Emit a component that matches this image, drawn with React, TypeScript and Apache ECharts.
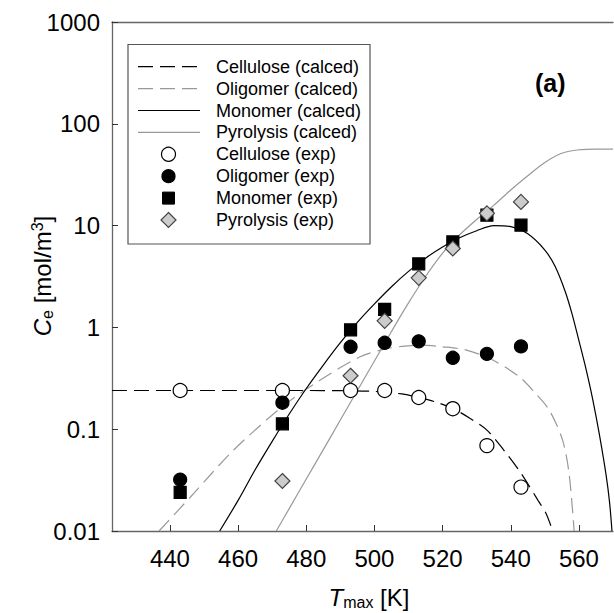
import React, { useEffect, useRef } from "react";
import * as echarts from "echarts";

const FONT = "'Liberation Sans', Arial, Helvetica, sans-serif";

const xTicks = [440, 460, 480, 500, 520, 540, 560];
const yTickLabels = ["0.01", "0.1", "1", "10", "100", "1000"];

// calculated curves [T, Ce]
const celluloseCalc = [
  [423, 0.24], [450, 0.24], [480, 0.24], [490, 0.239], [500, 0.235], [508, 0.222],
  [513, 0.205], [518, 0.185], [523, 0.16], [528, 0.128], [533, 0.098], [538, 0.062],
  [543, 0.037], [548, 0.02], [550.3, 0.015], [552.3, 0.01],
];
const oligomerCalc = [
  [436.8, 0.01], [446.1, 0.0217], [458.7, 0.0624], [473.2, 0.169], [484.1, 0.304],
  [495.8, 0.514], [502.6, 0.608], [508, 0.65], [513.3, 0.67], [520, 0.645], [527, 0.598],
  [534.7, 0.478], [542.5, 0.327], [547, 0.23], [551.3, 0.154], [555.2, 0.078],
  [557.1, 0.037], [558.6, 0.01],
];
const monomerCalc = [
  [454.6, 0.01], [460, 0.02], [465, 0.04], [470, 0.076], [475, 0.141], [480, 0.251],
  [485, 0.427], [490, 0.708], [495, 1.12], [500, 1.7], [505, 2.51], [510, 3.55],
  [515, 4.79], [520, 6.17], [525, 7.59], [530, 8.91], [535, 10.0], [540, 9.77],
  [545, 8.3], [550, 5.75], [553, 3.98], [556, 2.24], [558, 1.35], [560, 0.74],
  [562, 0.4], [564, 0.2], [566, 0.089], [568, 0.035], [569, 0.019], [569.7, 0.01],
];
const pyrolysisCalc = [
  [471.2, 0.01], [475, 0.0166], [480, 0.0324], [485, 0.063], [490, 0.123], [495, 0.24],
  [500, 0.468], [505, 0.912], [510, 1.74], [515, 3.16], [520, 5.37], [525, 8.13],
  [530, 11.5], [535, 15.8], [540, 22.4], [545, 30.9], [550, 41.7], [555, 51.3],
  [560, 55.6], [565, 56.5], [570, 56.5],
];

// experimental points
const celluloseExp = [
  [443, 0.24], [473, 0.24], [493, 0.24], [503, 0.24], [513, 0.205], [523, 0.159],
  [533, 0.069], [543, 0.027],
];
const oligomerExp = [
  [443, 0.032], [473, 0.182], [493, 0.645], [503, 0.706], [513, 0.729], [523, 0.503],
  [533, 0.55], [543, 0.651],
];
const monomerExp = [
  [443, 0.024], [473, 0.113], [493, 0.947], [503, 1.5], [513, 4.21], [523, 6.92],
  [533, 12.66], [543, 10.1],
];
const pyrolysisExp = [
  [473, 0.031], [493, 0.335], [503, 1.16], [513, 3.07], [523, 5.96], [533, 13.2],
  [543, 17.1],
];

const seriesNames = [
  "Cellulose (calced)", "Oligomer (calced)", "Monomer (calced)", "Pyrolysis (calced)",
  "Cellulose (exp)", "Oligomer (exp)", "Monomer (exp)", "Pyrolysis (exp)",
];

const xAxisTitle = "{i|T}{sub|max} [K]";
const yAxisTitle = "{i|C}{sub|e} [mol/m{sup|3}]";
const panelLabel = "(a)";

type Sty = { kind: string; color: string; fill?: string; dash?: number[] | null };
const legendStyles: Sty[] = [
  { kind: "line", color: "#000", dash: [15, 7] },
  { kind: "line", color: "#999", dash: [15, 7] },
  { kind: "line", color: "#000", dash: null },
  { kind: "line", color: "#999", dash: null },
  { kind: "circle", color: "#000", fill: "#fff" },
  { kind: "circle", color: "#000", fill: "#000" },
  { kind: "square", color: "#000", fill: "#000" },
  { kind: "diamond", color: "#444", fill: "#ccc" },
];

function buildLegend() {
  const els: any[] = [];
  const top = 44.5;
  const left = 128;
  const rowGap = 21.9;
  const firstRow = 66.7;
  els.push({
    type: "rect",
    shape: { x: left, y: top, width: 242, height: 199.5 },
    style: { fill: "#fff", stroke: "#555", lineWidth: 1.2 },
    z: 50,
  });
  seriesNames.forEach((name, i) => {
    const y = firstRow + rowGap * i;
    const s = legendStyles[i];
    const cx = 168.5;
    if (s.kind === "line") {
      els.push({
        type: "line",
        shape: { x1: 138, y1: y, x2: 200, y2: y },
        style: { stroke: s.color, lineWidth: 1.2, lineDash: s.dash || undefined },
        z: 51,
      });
    } else if (s.kind === "circle") {
      els.push({
        type: "circle",
        shape: { cx, cy: y, r: s.fill === "#fff" ? 7 : 6.5 },
        style: { fill: s.fill, stroke: s.color, lineWidth: 1.2 },
        z: 51,
      });
    } else if (s.kind === "square") {
      els.push({
        type: "rect",
        shape: { x: cx - 6, y: y - 6, width: 12, height: 12 },
        style: { fill: s.fill, stroke: s.color, lineWidth: 1 },
        z: 51,
      });
    } else {
      els.push({
        type: "polygon",
        shape: { points: [[cx, y - 7.5], [cx + 7.5, y], [cx, y + 7.5], [cx - 7.5, y]] },
        style: { fill: s.fill, stroke: s.color, lineWidth: 1.2 },
        z: 51,
      });
    }
    els.push({
      type: "text",
      x: 216,
      y,
      style: { text: name, fontSize: 18, fill: "#000", fontFamily: FONT, verticalAlign: "middle", align: "left" },
      z: 51,
    });
  });
  return els;
}

export default function App() {
  const ref = useRef<HTMLDivElement>(null);
  useEffect(() => {
    if (!ref.current) return;
    const chart = echarts.init(ref.current, null, { renderer: "svg" });
    const axisColor = "#666";
    const lineSeries = (name: string, data: number[][], color: string, type: any) => ({
      name,
      type: "line",
      data,
      symbol: "none",
      smooth: 0.3,
      lineStyle: { color, width: 1.2, type },
      itemStyle: { color },
      z: 2,
    });
    const scatter = (name: string, data: number[][], symbol: string, size: number, fill: string, stroke: string) => ({
      name,
      type: "scatter",
      data,
      symbol,
      symbolSize: size,
      itemStyle: { color: fill, borderColor: stroke, borderWidth: 1.2, opacity: 1 },
      z: 3,
    });
    const richName = {
      i: { fontStyle: "italic", fontSize: 24, fontFamily: FONT, fill: "#000", lineHeight: 26 },
      sub: { fontSize: 16, fontFamily: FONT, fill: "#000", verticalAlign: "bottom", lineHeight: 14 },
      sup: { fontSize: 16, fontFamily: FONT, fill: "#000", verticalAlign: "top", lineHeight: 14 },
    };
    chart.setOption({
      animation: false,
      backgroundColor: "#fff",
      textStyle: { fontFamily: FONT },
      grid: { left: 112, right: 1, top: 22, bottom: 82, containLabel: false, outerBoundsMode: "none" },
      xAxis: [
        {
          type: "value",
          min: 423,
          max: 570,
          position: "bottom",
          axisLine: { show: true, onZero: false, lineStyle: { color: axisColor, width: 1.3 } },
          axisTick: { show: true, inside: true, length: 6, customValues: xTicks, lineStyle: { color: "#333" } },
          axisLabel: { customValues: xTicks, color: "#000", fontSize: 24, margin: 15, fontFamily: FONT },
          splitLine: { show: false },
        },
        {
          type: "value",
          min: 423,
          max: 570,
          position: "top",
          axisLine: { show: true, onZero: false, lineStyle: { color: axisColor, width: 1.3 } },
          axisTick: { show: false },
          axisLabel: { show: false },
          splitLine: { show: false },
        },
      ],
      yAxis: {
        type: "log",
        logBase: 10,
        min: 0.01,
        max: 1000,
        axisLine: { show: true, lineStyle: { color: axisColor, width: 1.3 } },
        axisTick: { show: true, inside: true, length: 6, lineStyle: { color: "#333" } },
        axisLabel: {
          color: "#000",
          fontSize: 24,
          margin: 12,
          fontFamily: FONT,
          formatter: (v: number) => {
            const idx = Math.round(Math.log10(v)) + 2;
            return yTickLabels[idx] ?? "";
          },
        },
        minorTick: { show: false },
        splitLine: { show: false },
      },
      graphic: [
        ...buildLegend(),
        {
          type: "text",
          x: 535,
          y: 70,
          style: { text: panelLabel, fontSize: 25, fontWeight: "bold", fill: "#000", fontFamily: FONT },
          z: 52,
        },
        {
          type: "text",
          x: 369,
          y: 597,
          style: {
            text: xAxisTitle, fontSize: 24, fill: "#000", fontFamily: FONT, lineHeight: 26,
            align: "center", verticalAlign: "middle", rich: richName,
          },
          z: 52,
        },
        {
          type: "text",
          x: 42,
          y: 276,
          rotation: Math.PI / 2,
          style: {
            text: yAxisTitle, fontSize: 24, fill: "#000", fontFamily: FONT, lineHeight: 26,
            align: "center", verticalAlign: "middle", rich: richName,
          },
          z: 52,
        },
      ],
      series: [
        lineSeries(seriesNames[0], celluloseCalc, "#000", [15, 7]),
        lineSeries(seriesNames[1], oligomerCalc, "#999", [15, 7]),
        lineSeries(seriesNames[2], monomerCalc, "#000", "solid"),
        lineSeries(seriesNames[3], pyrolysisCalc, "#999", "solid"),
        scatter(seriesNames[4], celluloseExp, "circle", 14, "#fff", "#000"),
        scatter(seriesNames[5], oligomerExp, "circle", 13, "#000", "#000"),
        scatter(seriesNames[6], monomerExp, "rect", 12, "#000", "#000"),
        scatter(seriesNames[7], pyrolysisExp, "diamond", 15, "#ccc", "#444"),
      ],
    });
    return () => chart.dispose();
  }, []);
  return <div ref={ref} style={{ position: "fixed", left: 0, top: 0, width: 614, height: 613 }} />;
}
